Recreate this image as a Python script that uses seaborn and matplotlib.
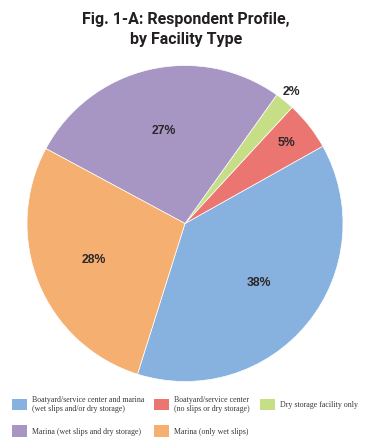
import numpy as np
import seaborn as sns
import matplotlib.pyplot as plt

sns.set_theme(style='white')

categories = ['Boatyard/service center and marina\n(wet slips and/or dry storage)',
              'Boatyard/service center\n(no slips or dry storage)',
              'Dry storage facility only',
              'Marina (wet slips and dry storage)',
              'Marina (only wet slips)']
shares = [38, 5, 2, 27, 28]
colors = sns.color_palette(['#87B1DE', '#EB7571', '#C6DF86', '#A795C4', '#F4AF71'])
label_dist = [0.60, 0.82, 1.07, 0.60, 0.62]

fig = plt.figure(figsize=(3.8, 4.48), dpi=100)
ax = fig.add_axes([27 / 380, (448 - 381.5) / 448, 316 / 380, 316 / 448])

wedges, texts = ax.pie(shares, colors=colors, startangle=-107.5, counterclock=True,
                       wedgeprops={'edgecolor': 'white', 'linewidth': 0.5})
ax.set_xlim(-1, 1)
ax.set_ylim(-1, 1)
ax.set_aspect('equal')
ax.axis('off')

# percentage labels at the middle angle of each wedge
for w, val, d in zip(wedges, shares, label_dist):
    mid = np.deg2rad((w.theta1 + w.theta2) / 2)
    ax.text(d * np.cos(mid), d * np.sin(mid), '{}%'.format(val),
            ha='center', va='center', fontsize=8.8, fontweight='bold',
            color='#2b2728', family=['Liberation Sans', 'DejaVu Sans'])

fig.text(0.49, 1 - 29.5 / 448, 'Fig. 1-A: Respondent Profile,\nby Facility Type',
         ha='center', va='center', fontsize=11.5, fontweight='bold', color='#231F20',
         linespacing=1.4, family=['Roboto', 'DejaVu Sans'])

# legend filled column-wise, so reorder to read row by row
order = [0, 3, 1, 4, 2]
leg = fig.legend([wedges[i] for i in order], [categories[i] for i in order],
                 ncol=3, loc='upper left', bbox_to_anchor=(6 / 380, 1 - 390 / 448),
                 frameon=False,
                 prop={'family': ['Liberation Serif', 'DejaVu Serif'], 'size': 5.7},
                 handlelength=1.95, handleheight=1.9, handletextpad=0.6,
                 columnspacing=1.25, labelspacing=1.6, borderpad=0.2)
for t in leg.get_texts():
    t.set_color('#3a3536')
for h in leg.legend_handles:
    h.set_edgecolor('none')

fig.savefig('out.png', dpi=100)
